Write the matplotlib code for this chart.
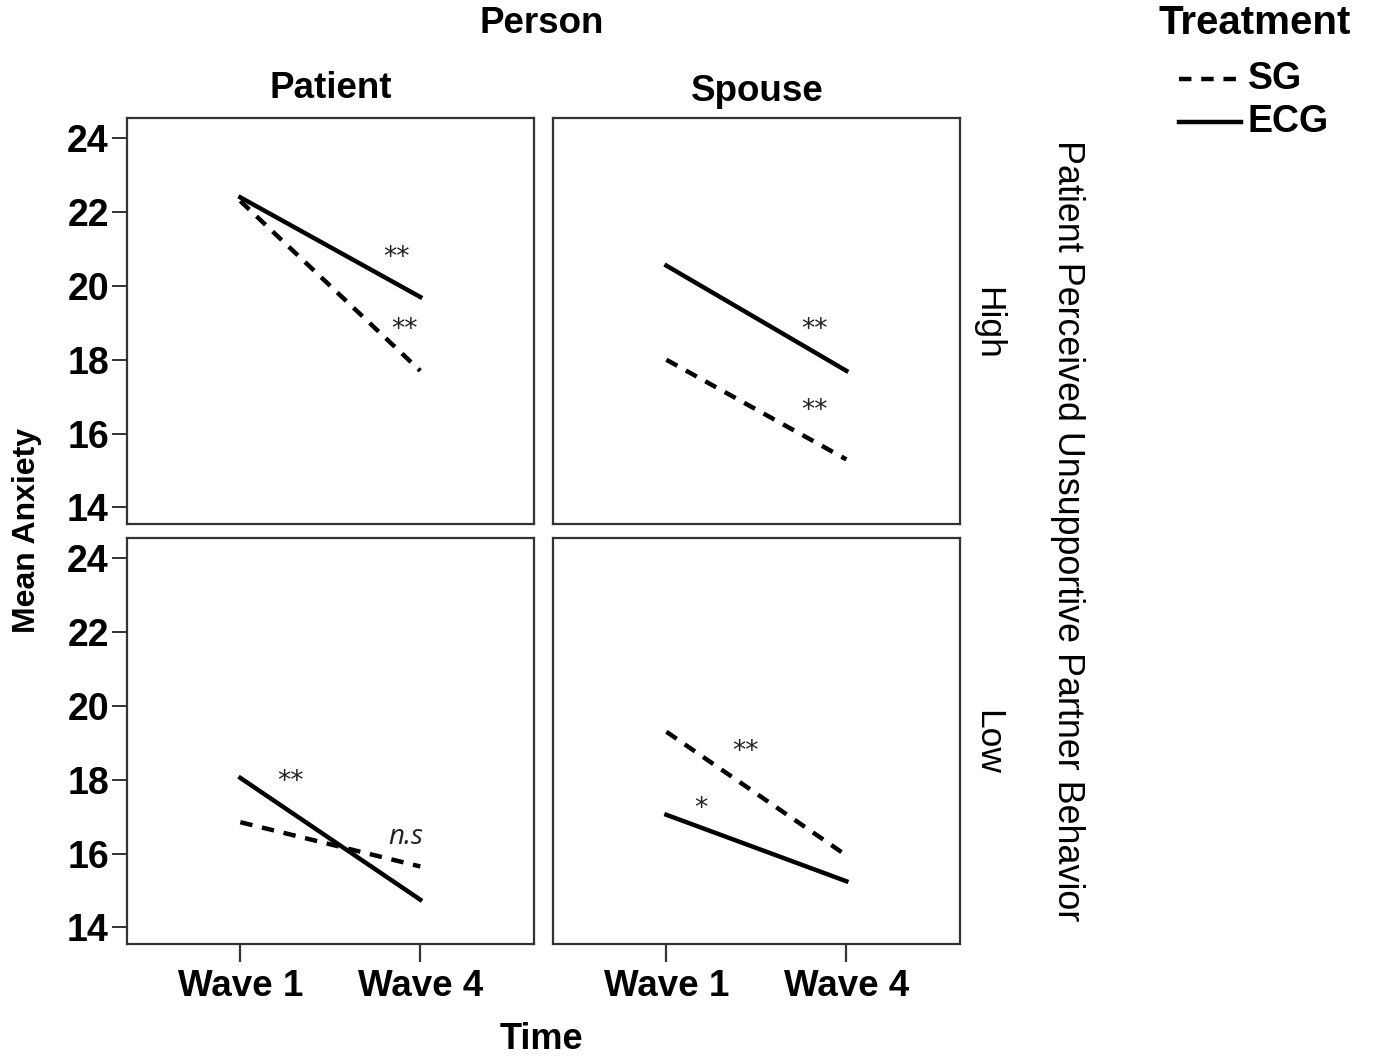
import matplotlib
matplotlib.use("Agg")
import matplotlib.pyplot as plt

plt.rcParams['font.family'] = ['Liberation Sans', 'DejaVu Sans']

waves = ['Wave 1', 'Wave 4']
persons = ['Patient', 'Spouse']
levels = ['High', 'Low']

# mean anxiety, (level, person) -> [wave1, wave4]
sg_high_patient = [22.3, 17.7]
ecg_high_patient = [22.4, 19.7]
sg_high_spouse = [18.0, 15.3]
ecg_high_spouse = [20.55, 17.7]
sg_low_patient = [16.85, 15.65]
ecg_low_patient = [18.05, 14.75]
sg_low_spouse = [19.3, 15.95]
ecg_low_spouse = [17.05, 15.25]

sg = {('High', 'Patient'): sg_high_patient, ('High', 'Spouse'): sg_high_spouse,
      ('Low', 'Patient'): sg_low_patient, ('Low', 'Spouse'): sg_low_spouse}
ecg = {('High', 'Patient'): ecg_high_patient, ('High', 'Spouse'): ecg_high_spouse,
       ('Low', 'Patient'): ecg_low_patient, ('Low', 'Spouse'): ecg_low_spouse}

# significance marks: text, x, y
marks = {('High', 'Patient'): [('**', 0.87, 20.75), ('**', 0.91, 18.8)],
         ('High', 'Spouse'): [('**', 0.82, 18.8), ('**', 0.82, 16.6)],
         ('Low', 'Patient'): [('**', 0.28, 17.95)],
         ('Low', 'Spouse'): [('**', 0.44, 18.75), ('*', 0.19, 17.2)]}
ns_mark = ('n.s', 0.92, 16.45)

yticks = [14, 16, 18, 20, 22, 24]
dash = (0, (2.8, 2.2))

fig = plt.figure(figsize=(13.74, 10.59), dpi=100)
lefts = [0.0924, 0.4025]
bottoms = {'High': 0.5052, 'Low': 0.1086}
W, H = 0.296, 0.3834
frame_col = '#333333'

for lev in levels:
    for j, per in enumerate(persons):
        ax = fig.add_axes([lefts[j], bottoms[lev], W, H])
        x = [0, 1]
        ax.plot(x, sg[(lev, per)], color='black', lw=3.2, linestyle=dash,
                solid_capstyle='butt', dash_capstyle='butt')
        ax.plot(x, ecg[(lev, per)], color='black', lw=3.2)
        for t, mx, my in marks[(lev, per)]:
            ax.text(mx, my, t, ha='center', va='center', fontsize=19,
                    color='#222222', family='DejaVu Sans')
        if (lev, per) == ('Low', 'Patient'):
            ax.text(ns_mark[1], ns_mark[2], ns_mark[0], ha='center',
                    va='center', fontsize=20, style='italic',
                    family='Open Sans', color='#222222')
        ax.set_xlim(-0.63, 1.63)
        ax.set_ylim(13.55, 24.55)
        for s in ax.spines.values():
            s.set_linewidth(1.6)
            s.set_color(frame_col)
        if j == 0:
            ax.set_yticks(yticks)
            ax.set_yticklabels([str(v) for v in yticks], fontsize=27,
                               fontweight='bold')
            ax.tick_params(axis='y', length=11, width=1.4, color=frame_col,
                           pad=2)
        else:
            ax.set_yticks([])
        if lev == 'Low':
            ax.set_xticks(x)
            ax.set_xticklabels(waves, fontsize=26.5, fontweight='bold')
            ax.tick_params(axis='x', length=13, width=1.6, color=frame_col,
                           pad=5)
        else:
            ax.set_xticks([])

# strip labels
fig.text(0.394, 0.978, 'Person', ha='center', va='center', fontsize=26.5,
         fontweight='bold')
fig.text(0.241, 0.916, 'Patient', ha='center', va='center', fontsize=26.5,
         fontweight='bold')
fig.text(0.551, 0.914, 'Spouse', ha='center', va='center', fontsize=26.5,
         fontweight='bold')
fig.text(0.719, 0.695, 'High', ha='center', va='center', fontsize=25.5,
         rotation=-90)
fig.text(0.719, 0.299, 'Low', ha='center', va='center', fontsize=25.5,
         rotation=-90)
fig.text(0.777, 0.499, 'Patient Perceived Unsupportive Partner Behavior',
         ha='center', va='center', fontsize=25.8, rotation=-90)
fig.text(0.020, 0.499, 'Mean Anxiety', ha='center', va='center',
         fontsize=23, fontweight='bold', rotation=90)
fig.text(0.394, 0.018, 'Time', ha='center', va='center', fontsize=26,
         fontweight='bold')

# legend
fig.text(0.913, 0.978, 'Treatment', ha='center', va='center', fontsize=29,
         fontweight='bold')
fig.add_artist(plt.Line2D([0.858, 0.903], [0.925, 0.925], color='black',
                          lw=3.2, linestyle=dash, transform=fig.transFigure))
fig.add_artist(plt.Line2D([0.858, 0.903], [0.885, 0.885], color='black',
                          lw=3.2, transform=fig.transFigure))
fig.text(0.908, 0.925, 'SG', ha='left', va='center', fontsize=27,
         fontweight='bold')
fig.text(0.908, 0.885, 'ECG', ha='left', va='center', fontsize=27,
         fontweight='bold')

fig.savefig('out.png', dpi=100)
